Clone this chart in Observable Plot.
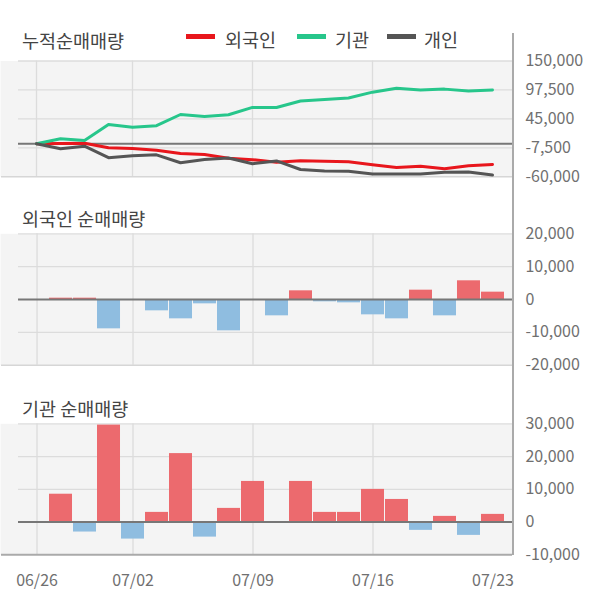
<!DOCTYPE html>
<html><head><meta charset="utf-8">
<script src="https://cdn.jsdelivr.net/npm/d3@7"></script>
<script src="https://cdn.jsdelivr.net/npm/@observablehq/plot@0.6"></script>
<style>
html,body{margin:0;padding:0;background:#fff;}
#root{position:relative;width:600px;height:604px;overflow:hidden;font-family:"Noto Sans CJK KR",sans-serif;}
.t{position:absolute;white-space:nowrap;color:#444;font-size:18.5px;line-height:20px;height:20px;}
.sw{position:absolute;height:4.5px;width:29px;}
.p{position:absolute;left:0;}
#axis{position:absolute;left:512px;top:33px;width:1.5px;height:522px;background:#aaa;}
</style></head>
<body><div id="root"></div>
<script>
// ---- data ----
const dates = ["06/26","06/27","06/28","07/01","07/02","07/03","07/04","07/05","07/08","07/09",
               "07/10","07/11","07/12","07/15","07/16","07/17","07/18","07/19","07/22","07/23"];
const xTicks = ["06/26","07/02","07/09","07/16","07/23"];
const gridDates = ["06/26","07/02","07/09","07/16"];
const seriesNames = ["외국인","기관","개인"];
const seriesColors = ["#e8161c","#27c68b","#555555"];
// cumulative net buying (lines)
const cumForeign = [0,400,800,-7500,-8500,-12000,-17800,-19500,-26500,-29000,
                    -33500,-30700,-32000,-32800,-38000,-43200,-41000,-45200,-40000,-37800];
const cumInst = [0,9000,6000,35000,29800,32700,53000,49300,52600,65800,
                 65800,77500,80000,83000,93500,100500,97500,99000,95500,97300];
const cumIndiv = [0,-9000,-4400,-25400,-21800,-20200,-34500,-28800,-26000,-36300,
                  -31200,-46800,-49500,-49800,-54900,-54900,-54900,-51900,-51300,-56800];
// daily net buying (bars)
const dayForeign = [0,400,400,-8930,0,-3450,-5890,-1320,-9540,0,
                    -4970,2640,-710,-1020,-4670,-5890,2840,-4970,5690,2230];
const dayInst = [0,8500,-3050,29600,-5200,2950,20900,-4600,4170,12400,
                 0,12400,2950,2950,9970,6900,-2540,1730,-4070,2340];
const cumTicks = [150000,97500,45000,-7500,-60000];
const foreignTicks = [20000,10000,0,-10000,-20000];
const instTicks = [30000,20000,10000,0,-10000];
const titles = ["누적순매매량","외국인 순매매량","기관 순매매량"];
const posColor = "#ec6a6e", negColor = "#8fbde0";

// ---- drawing ----
const root = document.getElementById("root");
const fmt = d => d.toLocaleString("en-US");
const baseStyle = {fontFamily:'"Noto Sans CJK KR", sans-serif', fontSize:"16px", color:"#707070", background:"transparent", overflow:"visible"};

function gridMarks(ticks, bottomColor, bottomWidth) {
  const lo = ticks[ticks.length - 1];
  return [
    Plot.frame({fill:"#f4f4f4", stroke:"none"}),
    Plot.ruleY(ticks.filter(t => t !== lo && t !== 0), {stroke:"#dcdcdc", strokeWidth:1.3, insetLeft:18}),
    Plot.ruleX(gridDates, {stroke:"#dcdcdc", strokeWidth:1.3}),
    Plot.ruleY([lo], {stroke:bottomColor, strokeWidth:bottomWidth, insetLeft:1})
  ];
}

function place(el, top) { el.classList.add("p"); el.style.top = top + "px"; root.appendChild(el); }

// Panel 1: cumulative lines
const cumData = dates.flatMap((d, i) => [
  {date:d, series:seriesNames[0], value:cumForeign[i]},
  {date:d, series:seriesNames[1], value:cumInst[i]},
  {date:d, series:seriesNames[2], value:cumIndiv[i]}
]);
const p1 = Plot.plot({
  width:600, height:136.3, marginTop:10.5, marginBottom:10, marginLeft:0, marginRight:88,
  style: baseStyle,
  x: {type:"point", domain:dates, range:[35.3, 492.3], padding:0, axis:null},
  y: {domain:[-60000,150000], ticks:cumTicks, tickFormat:fmt, tickSize:0, tickPadding:13, axis:"right", label:null},
  color: {domain:seriesNames, range:seriesColors},
  marks: [
    ...gridMarks(cumTicks, "#d6d6d6", 1.5),
    Plot.ruleY([0], {stroke:"#777", strokeWidth:2, insetLeft:18}),
    Plot.line(cumData, {x:"date", y:"value", stroke:"series", strokeWidth:3})
  ]
});
place(p1, 50);

function barPanel(values, ticks, domain, h, mb, showX, bottomColor, bottomWidth) {
  const data = dates.map((d, i) => ({date:d, value:values[i]}));
  return Plot.plot({
    width:600, height:h, marginTop:10.3, marginBottom:mb, marginLeft:0, marginRight:88,
    style: baseStyle,
    x: {type:"band", domain:dates, range:[23.275, 504.3], paddingInner:0.06, paddingOuter:0.03,
        axis: showX ? "bottom" : null, ticks:xTicks, tickSize:0, tickPadding:20, label:null},
    y: {domain:domain, ticks:ticks, tickFormat:fmt, tickSize:0, tickPadding:13, axis:"right", label:null},
    marks: [
      ...gridMarks(ticks, bottomColor, bottomWidth),
      Plot.barY(data, {x:"date", y:"value", fill: d => d.value >= 0 ? posColor : negColor}),
      Plot.ruleY([0], {stroke:"#777", strokeWidth:2, insetLeft:18})
    ]
  });
}
place(barPanel(dayForeign, foreignTicks, [-20000,20000], 151.7, 10, false, "#d6d6d6", 1.5), 223);
place(barPanel(dayInst, instTicks, [-10000,30000], 181.3, 40, true, "#aaaaaa", 2), 413);

// right axis line
const ax = document.createElement("div"); ax.id = "axis"; root.appendChild(ax);

// titles and legend
function text(str, left, top, size) {
  const d = document.createElement("div");
  d.className = "t"; d.textContent = str;
  d.style.left = left + "px"; d.style.top = top + "px";
  if (size) d.style.fontSize = size + "px";
  root.appendChild(d);
}
text(titles[0], 22, 30);
text(titles[1], 22, 207.5);
text(titles[2], 22, 397.5);
const legendSw = [186, 297, 387], legendTx = [225, 335, 424];
seriesNames.forEach((s, i) => {
  const sw = document.createElement("div");
  sw.className = "sw"; sw.style.left = legendSw[i] + "px"; sw.style.top = "34.3px";
  sw.style.background = seriesColors[i];
  root.appendChild(sw);
  text(s, legendTx[i], 29);
});
</script>
</body></html>
